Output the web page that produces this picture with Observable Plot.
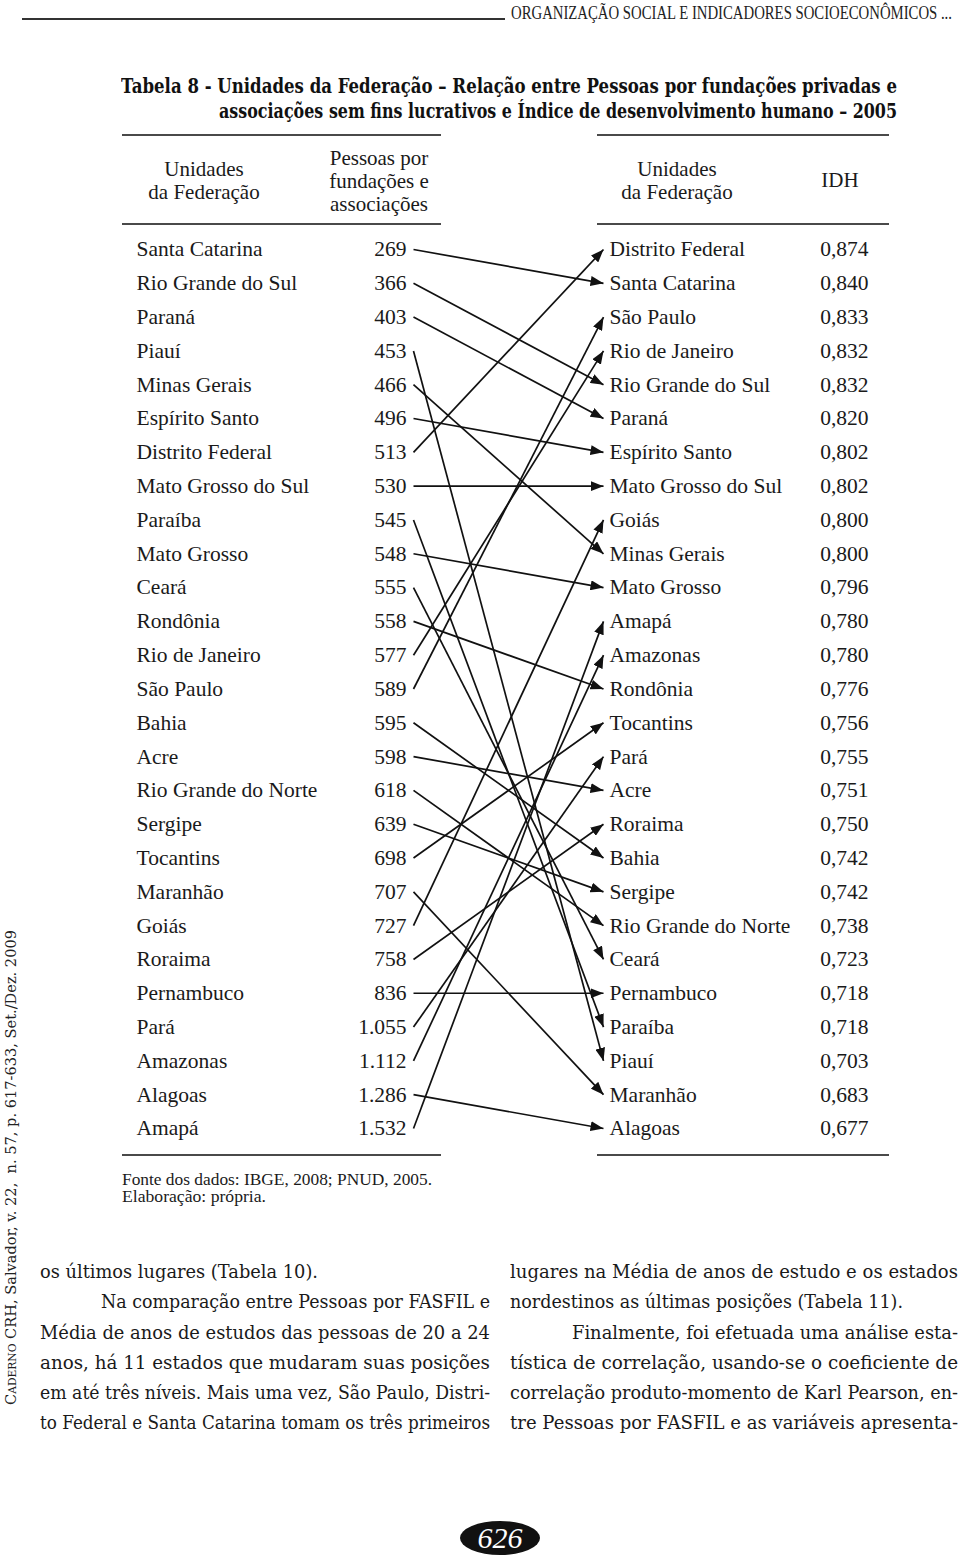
<!DOCTYPE html>
<html>
<head>
<meta charset="utf-8">
<script src="https://cdn.jsdelivr.net/npm/d3@7"></script>
<script src="https://cdn.jsdelivr.net/npm/@observablehq/plot@0.6"></script>
<style>
  body { margin: 0; background: #fff; }
  #page { position: relative; width: 960px; height: 1563px; overflow: hidden; background: #fff; color: #1a1a1a; font-family: "Liberation Serif", serif; }
  .abs { position: absolute; white-space: nowrap; transform-origin: 0 0; }
  .rule { position: absolute; height: 0; border-top: 2px solid #4a4a4a; }
  .hdr { position: absolute; text-align: center; font-family: "Liberation Serif", serif; font-size: 21px; line-height: 23px; color: #1a1a1a; }
  .title { font-family: "DejaVu Serif", serif; font-weight: bold; font-size: 21px; line-height: 24px; color: #111; }
  .para { font-family: "DejaVu Serif", serif; font-size: 19px; line-height: 24px; color: #1a1a1a; }
  #plotbox { position: absolute; left: 0; top: 230px; }
</style>
</head>
<body>
<div id="page">
  <div class="rule" style="left:22px;top:18px;width:483px;border-top-width:2px;border-color:#333"></div>
  <div class="abs" id="runhead" style="left:511px;top:3px;font-size:18px;line-height:20px;color:#222">ORGANIZAÇÃO SOCIAL E INDICADORES SOCIOECONÔMICOS ...</div>

  <div class="abs title" id="t1" style="left:121px;top:74px">Tabela 8 - Unidades da Federação – Relação entre Pessoas por fundações privadas e</div>
  <div class="abs title" id="t2" style="left:219px;top:99px">associações sem fins lucrativos e Índice de desenvolvimento humano – 2005</div>

  <div class="rule" style="left:122px;top:134px;width:319px"></div>
  <div class="rule" style="left:597px;top:134px;width:292px"></div>

  <div class="hdr" style="left:124px;top:158px;width:160px">Unidades<br>da Federação</div>
  <div class="hdr" style="left:318px;top:147px;width:122px">Pessoas por<br>fundações e<br>associações</div>
  <div class="hdr" style="left:597px;top:158px;width:160px">Unidades<br>da Federação</div>
  <div class="hdr" style="left:800px;top:169px;width:80px">IDH</div>

  <div class="rule" style="left:122px;top:223px;width:319px"></div>
  <div class="rule" style="left:597px;top:223px;width:292px"></div>

  <div id="plotbox"></div>

  <div class="rule" style="left:122px;top:1154px;width:319px"></div>
  <div class="rule" style="left:597px;top:1154px;width:292px"></div>

  <div class="abs" id="f1" style="left:122px;top:1171px;font-size:16px;line-height:18px">Fonte dos dados: IBGE, 2008; PNUD, 2005.</div>
  <div class="abs" id="f2" style="left:122px;top:1188px;font-size:16px;line-height:18px">Elaboração: própria.</div>

  <div class="abs" id="side" style="left:2px;top:1405px;font-family:'DejaVu Serif',serif;font-size:15px;line-height:18px;color:#222"><span style="font-variant:small-caps">Caderno</span> CRH, Salvador, v. 22,&nbsp; n. 57, p. 617-633, Set./Dez. 2009</div>

  <div id="paras"></div>

  <svg style="position:absolute;left:455px;top:1518px" width="90" height="42">
    <ellipse cx="45" cy="20" rx="40" ry="17" fill="#111"></ellipse>
    <text x="45" y="30" text-anchor="middle" fill="#fff" font-family="Liberation Serif, serif" font-style="italic" font-size="30">626</text>
  </svg>
</div>

<script>
const pessoasStates = ["Santa Catarina","Rio Grande do Sul","Paraná","Piauí","Minas Gerais","Espírito Santo","Distrito Federal","Mato Grosso do Sul","Paraíba","Mato Grosso","Ceará","Rondônia","Rio de Janeiro","São Paulo","Bahia","Acre","Rio Grande do Norte","Sergipe","Tocantins","Maranhão","Goiás","Roraima","Pernambuco","Pará","Amazonas","Alagoas","Amapá"];
const pessoasValues = ["269","366","403","453","466","496","513","530","545","548","555","558","577","589","595","598","618","639","698","707","727","758","836","1.055","1.112","1.286","1.532"];
const idhStates = ["Distrito Federal","Santa Catarina","São Paulo","Rio de Janeiro","Rio Grande do Sul","Paraná","Espírito Santo","Mato Grosso do Sul","Goiás","Minas Gerais","Mato Grosso","Amapá","Amazonas","Rondônia","Tocantins","Pará","Acre","Roraima","Bahia","Sergipe","Rio Grande do Norte","Ceará","Pernambuco","Paraíba","Piauí","Maranhão","Alagoas"];
const idhValues = ["0,874","0,840","0,833","0,832","0,832","0,820","0,802","0,802","0,800","0,800","0,796","0,780","0,780","0,776","0,756","0,755","0,751","0,750","0,742","0,742","0,738","0,723","0,718","0,718","0,703","0,683","0,677"];

const leftRows = pessoasStates.map((s, i) => ({state: s, value: pessoasValues[i], rank: i + 1}));
const rightRows = idhStates.map((s, i) => ({state: s, value: idhValues[i], rank: i + 1}));
const links = leftRows.map(d => ({state: d.state, from: d.rank, to: idhStates.indexOf(d.state) + 1}));

const ink = "#1a1a1a";
const plot = Plot.plot({
  width: 960,
  height: 915,
  margin: 0,
  style: {background: "transparent", fontFamily: "Liberation Serif, serif", color: ink},
  x: {type: "linear", domain: [0, 960], range: [0, 960], axis: null},
  y: {type: "point", domain: d3.range(1, 28), range: [19, 898], padding: 0, round: false, axis: null},
  marks: [
    Plot.text(leftRows, {x: () => 136, y: "rank", text: "state", textAnchor: "start", fontSize: 21.5, fill: ink}),
    Plot.text(leftRows, {x: () => 406, y: "rank", text: "value", textAnchor: "end", fontSize: 21.5, fill: ink}),
    Plot.text(rightRows, {x: () => 609, y: "rank", text: "state", textAnchor: "start", fontSize: 21.5, fill: ink}),
    Plot.text(rightRows, {x: () => 868, y: "rank", text: "value", textAnchor: "end", fontSize: 21.5, fill: ink}),
    Plot.link(links, {x1: () => 413, x2: () => 603, y1: "from", y2: "to", stroke: "#111", strokeWidth: 1.7})
  ]
});

// filled triangular arrowheads on the links
const ns = "http://www.w3.org/2000/svg";
const defs = document.createElementNS(ns, "defs");
const marker = document.createElementNS(ns, "marker");
marker.setAttribute("id", "ahead");
marker.setAttribute("viewBox", "0 0 13 10");
marker.setAttribute("refX", "13");
marker.setAttribute("refY", "5");
marker.setAttribute("markerWidth", "13");
marker.setAttribute("markerHeight", "10");
marker.setAttribute("markerUnits", "userSpaceOnUse");
marker.setAttribute("orient", "auto");
const mp = document.createElementNS(ns, "path");
mp.setAttribute("d", "M0,0L13,5L0,10Z");
mp.setAttribute("fill", "#111");
marker.appendChild(mp);
defs.appendChild(marker);
plot.insertBefore(defs, plot.firstChild);
plot.querySelectorAll('g[aria-label="link"] path').forEach(p => p.setAttribute("marker-end", "url(#ahead)"));
document.getElementById("plotbox").appendChild(plot);

// ---- Body text of the page ----
const leftCol = [
  ["os últimos lugares (Tabela 10).", 40, 278, 1272],
  ["Na comparação entre Pessoas por FASFIL e", 101, 389, 1302],
  ["Média de anos de estudos das pessoas de 20 a 24", 40, 450, 1333],
  ["anos, há 11 estados que mudaram suas posições", 40, 450, 1363],
  ["em até três níveis. Mais uma vez, São Paulo, Distri-", 40, 450, 1393],
  ["to Federal e Santa Catarina tomam os três primeiros", 40, 450, 1423]
];
const rightCol = [
  ["lugares na Média de anos de estudo e os estados", 510, 448, 1272],
  ["nordestinos as últimas posições (Tabela 11).", 510, 393, 1302],
  ["Finalmente, foi efetuada uma análise esta-", 572, 386, 1333],
  ["tística de correlação, usando-se o coeficiente de", 510, 448, 1363],
  ["correlação produto-momento de Karl Pearson, en-", 510, 448, 1393],
  ["tre Pessoas por FASFIL e as variáveis apresenta-", 510, 448, 1423]
];
const paras = document.getElementById("paras");
function fit(el, w, extra) {
  const cur = el.getBoundingClientRect().width;
  el.style.transform = (extra || "") + ` scaleX(${w / cur})`;
}
for (const [t, x, w, y] of [...leftCol, ...rightCol]) {
  const d = document.createElement("div");
  d.className = "abs para";
  d.textContent = t;
  d.style.left = x + "px";
  d.style.top = (y - 13) + "px";
  paras.appendChild(d);
  fit(d, w);
}
fit(document.getElementById("runhead"), 441);
fit(document.getElementById("t1"), 776);
fit(document.getElementById("t2"), 678);
fit(document.getElementById("f1"), 310);
fit(document.getElementById("f2"), 144);
fit(document.getElementById("side"), 475, "rotate(-90deg)");
</script>
</body>
</html>
